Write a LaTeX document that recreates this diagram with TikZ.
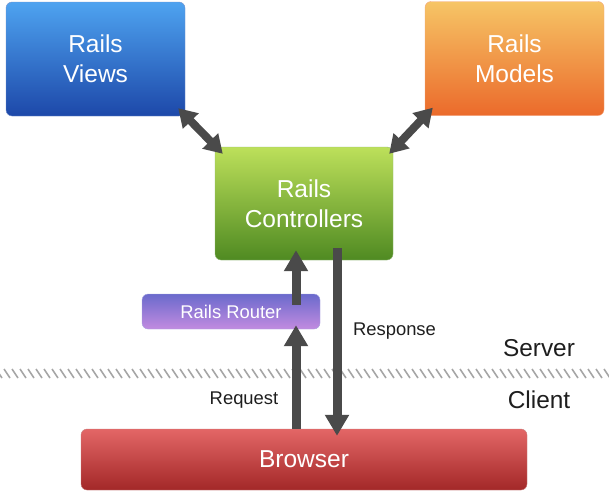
\documentclass[tikz,border=0pt]{standalone}
\usepackage{fontspec}
\setmainfont{Liberation Sans}
\usetikzlibrary{arrows.meta}

\definecolor{viewtop}{HTML}{4EA3F0}
\definecolor{viewbot}{HTML}{1D48A9}
\definecolor{modeltop}{HTML}{F6C566}
\definecolor{modelbot}{HTML}{EB6A2B}
\definecolor{ctrltop}{HTML}{BDE05A}
\definecolor{ctrlbot}{HTML}{4F8A22}
\definecolor{routtop}{HTML}{6A6ACC}
\definecolor{routbot}{HTML}{C28BE0}
\definecolor{browtop}{HTML}{E36666}
\definecolor{browbot}{HTML}{A32828}
\definecolor{arrowgray}{HTML}{4A4A4A}
\definecolor{labelgray}{HTML}{1E1E1E}

\begin{document}
\begin{tikzpicture}[x=1pt,y=-1pt,
  box/.style={rounded corners=6pt, inner sep=0pt, align=center, text=white,
    minimum width=179pt, minimum height=114pt, line width=0.4pt,
    font=\fontsize{24.5}{30}\selectfont},
  bigarrow/.style={draw=arrowgray, line width=9pt,
    -{Triangle[width=23pt,length=21pt]}},
  duoarrow/.style={draw=arrowgray, line width=8pt,
    {Triangle[width=21pt,length=18pt]}-{Triangle[width=21pt,length=18pt]}},
  label/.style={text=labelgray, font=\fontsize{18.4}{22}\selectfont},
  side/.style={text=labelgray, font=\fontsize{24.4}{28}\selectfont},
  hatch/.style={draw=gray!70, line width=1.6pt}]

  \useasboundingbox (0,0) rectangle (609,493);

  % --- Boxes ---
  \node[box, top color=viewtop, bottom color=viewbot, draw=viewbot!60] (views) at (95.5,59) {Rails\\Views};
  \node[box, top color=modeltop, bottom color=modelbot, draw=modelbot!60] (models) at (514.5,58.5) {Rails\\Models};
  \node[box, top color=ctrltop, bottom color=ctrlbot, draw=ctrlbot!60, minimum width=178pt, minimum height=113pt] (ctrl) at (304,203.5) {Rails\\Controllers};
  \node[box, top color=routtop, bottom color=routbot, draw=routtop!60, minimum width=178pt, minimum height=35pt, font=\fontsize{18.4}{22}\selectfont] (router) at (231,311.5) {Rails Router};
  \node[box, top color=browtop, bottom color=browbot, draw=browbot!60, minimum width=446pt, minimum height=61pt] (browser) at (304,459.5) {Browser};

  % --- Server / client border ---
  \foreach \x in {-4,4,...,612}
    \draw[hatch] (\x,369) -- (\x+6,378);

  % --- Labels ---
  \node[label] (request) at (244,400) {Request};
  \node[label] (response) at (394.5,331) {Response};
  \node[side] (server) at (539,348) {Server};
  \node[side] (client) at (539,400) {Client};

  % --- Arrows ---
  \coordinate (reqx) at (296,0);
  \coordinate (resx) at (337,0);
  \draw[duoarrow] ([shift={(-7,-8)}]views.south east) -- ([shift={(8,7)}]ctrl.north west);
  \draw[duoarrow] ([shift={(8,-8)}]models.south west) -- ([shift={(-4,7)}]ctrl.north east);
  \draw[bigarrow] (browser.north -| reqx) -- ([yshift=4pt]router.south -| reqx);
  \draw[bigarrow] ([yshift=-11pt]router.north -| reqx) -- ([yshift=10pt]ctrl.south -| reqx);
  \draw[bigarrow] ([yshift=12pt]ctrl.south -| resx) -- ([yshift=-7pt]browser.north -| resx);

\end{tikzpicture}
\end{document}
